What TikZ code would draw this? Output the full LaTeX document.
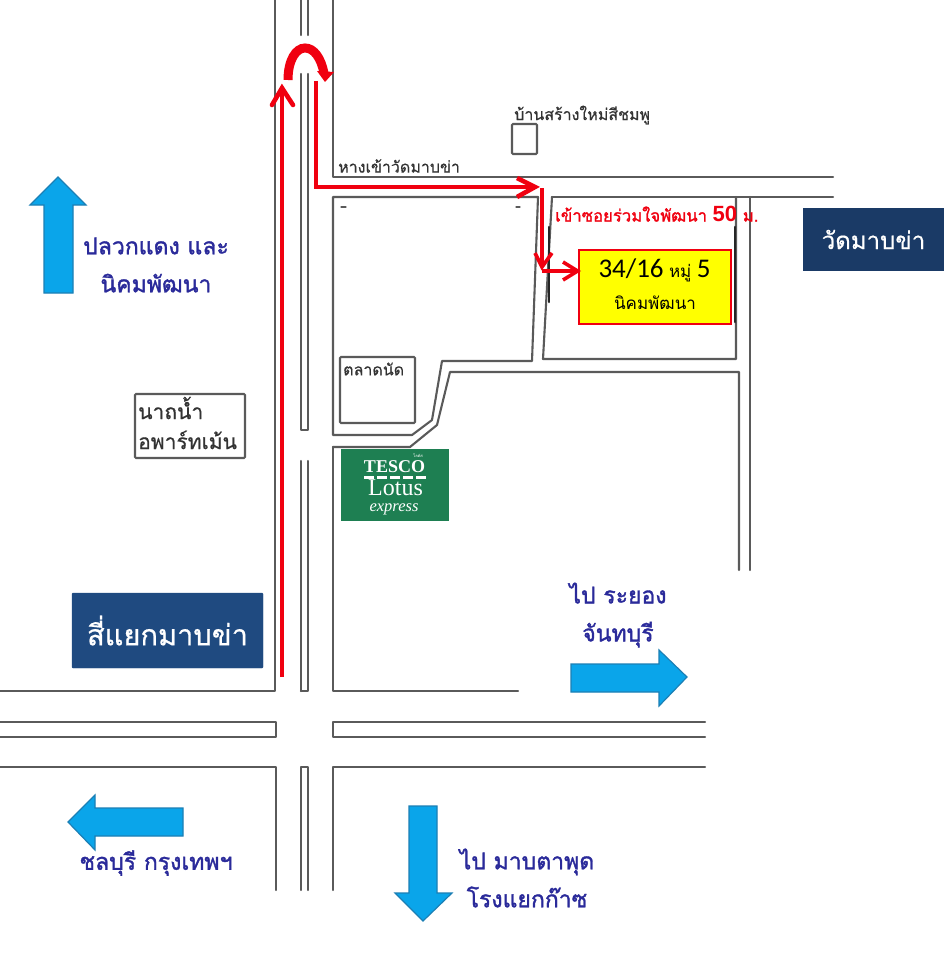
\documentclass[tikz,border=0pt]{standalone}
\usepackage{fontspec}
\setmainfont{Liberation Sans}
\newfontfamily\thaifont[Script=Thai]{Loma}
\newfontfamily\thaibold[Script=Thai,FakeBold=1.5]{Loma}
\newfontfamily\thaimid[Script=Thai,FakeBold=0.6]{Loma}
\newfontfamily\numfont{Carlito}
\newfontfamily\boldnum{Liberation Sans Bold}
\newfontfamily\tescofont{Liberation Serif}
\usetikzlibrary{arrows.meta}
\definecolor{roadgrey}{HTML}{5A5A5A}
\definecolor{navytext}{HTML}{2A2A9A}
\definecolor{skyfill}{HTML}{0AA5EA}
\definecolor{skyedge}{HTML}{1B7FB5}
\definecolor{navyA}{HTML}{1A3A66}
\definecolor{navyB}{HTML}{1F4A80}
\definecolor{tescogreen}{HTML}{1E7F52}
\definecolor{routered}{HTML}{F00010}
\definecolor{labelgrey}{HTML}{333333}
\definecolor{destyellow}{HTML}{FFFF00}
\tikzset{
  road/.style={draw=roadgrey,line width=2.1pt,line join=round,line cap=round},
  thinbox/.style={draw=roadgrey,line width=2.1pt,rounded corners=1pt},
  dirarrow/.style={fill=skyfill,draw=skyedge,line width=1.2pt,line join=miter},
  dirlabel/.style={text=navytext,font=\thaibold\fontsize{23}{38}\selectfont,align=center,inner sep=0pt},
  maplabel/.style={text=labelgrey,font=\thaimid\fontsize{16}{20}\selectfont,inner sep=0pt},
  navybox/.style={text=white,inner sep=0pt,align=center},
  route/.style={draw=routered,line width=4.6pt,line join=miter},
  routethin/.style={draw=routered,line width=3.6pt,line join=miter},
}
\begin{document}
\begin{tikzpicture}[x=1pt,y=-1pt]
\useasboundingbox (0,0) rectangle (946,960);
\fill[white] (0,0) rectangle (946,960);
% ---- main north-south road
\draw[road] (275,0) -- (275,691) -- (0,691);
\draw[road] (301,0) -- (301,35);
\draw[road] (308,0) -- (308,35);
\draw[road] (301,74) -- (301,430) -- (308,430) -- (308,74);
\draw[road] (301,691) -- (301,461);
\draw[road] (308,461) -- (308,691) -- (301,691);
\draw[road,line width=2.8pt] (333,0) -- (333,72);
\draw[road] (333,72) -- (333,177) -- (833,177);
% ---- side soi block
\draw[road] (333,435) -- (333,197) -- (538,197) -- (532,361) -- (442,361) -- (432,420) -- (412,435) -- (333,435);
\draw[road] (333,447) -- (410,447) -- (437,425) -- (450,372) -- (739,372) -- (739,570);
\draw[road] (552,197) -- (833,197);
\draw[road] (552,197) -- (543,359) -- (736,359) -- (736,197);
\draw[road] (750,197) -- (750,570);
\draw[road,draw=black!85,line width=2.6pt] (549,227) -- (549,302);
\draw[road,draw=black!85,line width=2.6pt] (735,227) -- (735,322);
\draw[road,line width=1.2pt,dash pattern=on 5pt off 170pt] (341,207) -- (520,207);
% ---- east-west road
\draw[road] (333,447) -- (333,691) -- (518,691);
\draw[road] (0,722) -- (276,722) -- (276,737) -- (0,737);
\draw[road] (705,722) -- (333,722) -- (333,737) -- (705,737);
\draw[road] (0,767) -- (276,767) -- (276,890);
\draw[road] (705,767) -- (333,767) -- (333,890);
\draw[road] (301,890) -- (301,767) -- (308,767) -- (308,890);
% ---- landmark boxes
\node[thinbox,minimum width=25pt,minimum height=30pt,inner sep=0pt] (house) at (524.5,139) {};
\node[maplabel,anchor=west] (houselabel) at (514,115) {บ้านสร้างใหม่สีชมพู};
\node[maplabel,anchor=west] (roadlabel) at (338,166) {หางเข้าวัดมาบข่า};
\node[thinbox,minimum width=75pt,minimum height=66pt,inner sep=0pt] (market) at (377.5,390) {};
\node[maplabel,anchor=west] (marketlabel) at (343,369) {ตลาดนัด};
\node[thinbox,minimum width=110pt,minimum height=64pt,inner sep=0pt] (water) at (190,426) {};
\node[maplabel,anchor=west,font=\thaimid\fontsize{21}{30}\selectfont,align=left] (waterlabel) at (138,423) {นาถน้ำ\\อพาร์ทเม้น};
% ---- tesco
\node[fill=tescogreen,minimum width=108pt,minimum height=72pt,inner sep=0pt] (tesco) at (395,485) {};
\node[text=white,font=\thaifont\fontsize{4}{5}\selectfont,inner sep=0pt] (tesco0) at (418,456) {โลตัส};
\node[text=white,font=\tescofont\bfseries\fontsize{18}{19}\selectfont,inner sep=0pt] (tesco1) at (394.5,467) {TESCO};
\node[text=white,font=\tescofont\fontsize{24}{26}\selectfont,inner sep=0pt] (tesco2) at (395.5,488) {Lotus};
\node[text=white,font=\tescofont\itshape\fontsize{16.5}{17}\selectfont,inner sep=0pt] (tesco3) at (394,509) {express};
\draw[white,line width=2.2pt,dash pattern=on 10pt off 3pt] (364,477.5) -- (426,477.5);
% ---- navy labels
\node[fill=navyA,minimum width=141pt,minimum height=63pt,navybox,font=\thaimid\fontsize{24}{30}\selectfont] (wat) at (873.5,239.5) {วัดมาบข่า};
\node[fill=navyB,minimum width=191pt,minimum height=75pt,navybox,rounded corners=1pt,draw=navyB,font=\thaimid\fontsize{29}{34}\selectfont] (junction) at (167.5,630.5) {สี่แยกมาบข่า};
% ---- destination box
\node[fill=destyellow,draw=routered,line width=2.8pt,minimum width=152pt,minimum height=74pt,inner sep=0pt] (dest) at (655,287) {};
\node[inner sep=0pt,font=\thaifont] (destline1) at (654.5,270)
  {{\numfont\fontsize{27}{30}\selectfont 34/16}\hspace{2pt} {\fontsize{17}{20}\selectfont หมู่}\hspace{2pt} {\numfont\fontsize{27}{30}\selectfont 5}};
\node[inner sep=0pt,font=\thaifont\fontsize{17}{20}\selectfont] (destline2) at (655,303) {นิคมพัฒนา};
\node[text=routered,font=\thaibold\fontsize{16.7}{20}\selectfont,anchor=west,inner sep=0pt] (soi) at (555,214)
  {เข้าซอยร่วมใจพัฒนา {\boldnum\fontsize{22}{22}\selectfont 50} ม.};
% ---- direction arrows
\draw[dirarrow] (44,293) -- (44,205) -- (30,205) -- (58,177) -- (86,205) -- (73,205) -- (73,293) -- cycle;
\draw[dirarrow] (183,808) -- (95,808) -- (95,795) -- (68,822) -- (95,850) -- (95,836) -- (183,836) -- cycle;
\draw[dirarrow] (571,664) -- (659,664) -- (659,650) -- (687,677) -- (659,706) -- (659,692) -- (571,692) -- cycle;
\draw[dirarrow] (409,806) -- (409,893) -- (395,893) -- (423,921) -- (452,893) -- (437,893) -- (437,806) -- cycle;
\node[dirlabel] (north) at (156,265) {ปลวกแดง และ\\นิคมพัฒนา};
\node[dirlabel] (west) at (156,863) {ชลบุรี กรุงเทพฯ};
\node[dirlabel] (east) at (618,615) {ไป ระยอง\\จันทบุรี};
\node[dirlabel] (south) at (527,878) {ไป มาบตาพุด\\โรงแยกก๊าซ};
% ---- route
\coordinate (r0) at (282,677);
\coordinate (r1) at (282,88);
\coordinate (u0) at (288,80);
\coordinate (u1) at (324,73);
\coordinate (s0) at (316,81);
\coordinate (s1) at (316,187);
\coordinate (s2) at (535,187);
\coordinate (d0) at (542,188);
\coordinate (d1) at (542,267);
\coordinate (e0) at (542,271);
\coordinate (e1) at (dest.west |- e0);
\draw[route] (r0) -- (r1);
\draw[route,line cap=round] (272,105) -- (282,88) -- (293,105);
\draw[draw=routered,line width=9pt] (u0) .. controls (288,60) and (296,48) .. (305,48) .. controls (314,48) and (321,58) .. (u1);
\fill[routered] (317,71) -- (334,72) -- (325,82) -- cycle;
\draw[route] (s0) -- (s1) -- (s2);
\draw[route] (517,178) -- (s2) -- (517,197);
\draw[routethin] (d0) -- (d1);
\draw[routethin] (535,253) -- (d1) -- (552,253);
\draw[routethin] (e0) -- (e1);
\draw[routethin] (563,262) -- (e1) -- (563,280);
\end{tikzpicture}
\end{document}
